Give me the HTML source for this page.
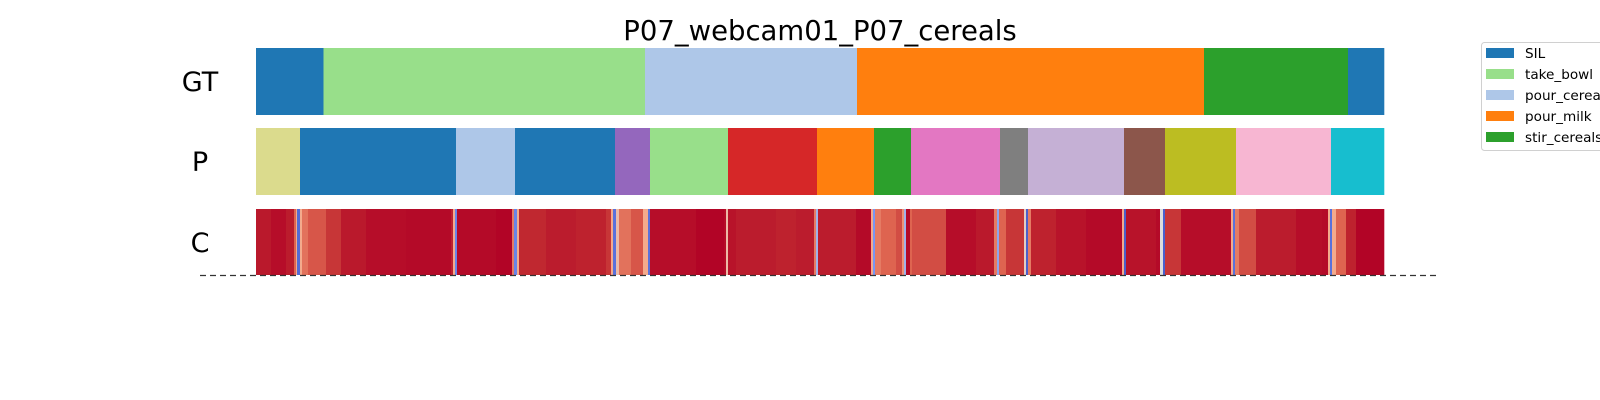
<!DOCTYPE html>
<html><head><meta charset="utf-8"><style>
html,body{margin:0;padding:0;background:#fff;width:1600px;height:400px;overflow:hidden}
svg text{font-family:"DejaVu Sans","Liberation Sans",sans-serif}
</style></head><body>
<svg id="chart" width="1600" height="400" viewBox="0 0 1600 400" xmlns="http://www.w3.org/2000/svg">
<text x="820" y="40" font-size="27.5" text-anchor="middle" fill="#000">P07_webcam01_P07_cereals</text>
<text x="200" y="91" font-size="27" text-anchor="middle">GT</text>
<text x="200" y="171" font-size="27" text-anchor="middle">P</text>
<text x="200" y="252" font-size="27" text-anchor="middle">C</text>
<g id="gt"></g>
<g id="pr"></g>
<g id="cf"></g>
<line x1="200" y1="275.5" x2="1440" y2="275.5" stroke="#333" stroke-width="1.3" stroke-dasharray="6,4"/>
<g>
<rect x="1481.5" y="42.5" width="140" height="108" rx="3" fill="#fff" stroke="#d0d0d0"/>
<g id="leg"></g>
</g>
</svg>
<script>
// total frames = bar width in px units
const TOTAL = 1128;
const gtStarts = [0, 67.5, 389, 601, 948, 1092];
const gtLabels = ['SIL','take_bowl','pour_cereals','pour_milk','stir_cereals','SIL'];
const prStarts = [0, 44, 200, 259, 359, 394, 472, 561, 618, 655, 744, 772, 868, 909, 980, 1075];
const prColors = ['#dbdb8d','#1f77b4','#aec7e8','#1f77b4','#9467bd','#98df8a','#d62728','#ff7f0e','#2ca02c','#e377c2','#7f7f7f','#c5b0d5','#8c564b','#bcbd22','#f7b6d2','#17becf'];
const confStarts = [0,15,30,38,40,41,44,46,52,70,85,110,150,195,197,199,201,240,256,258,261,263,290,320,350,355,357,360,363,375,387,392,394,440,468,470,472,480,520,540,558,560,562,600,615,617,619,625,640,646,648,650,654,656,690,720,738,741,743,750,768,770,772,775,800,830,866,868,870,900,904,907,909,925,975,977,979,983,1000,1040,1066,1072,1074,1076,1080,1090,1100];
const confValues = [.93,.97,.92,.75,.6,.08,.6,.72,.78,.85,.93,.97,.98,.9,.6,.15,.98,1.0,.7,.15,.6,.88,.92,.9,.85,.6,.1,.55,.72,.78,.6,.1,.97,1.0,.97,.55,.95,.92,.9,.92,.7,.3,.92,.98,.6,.2,.7,.75,.8,.65,.3,.98,.75,.8,.97,.93,.7,.25,.75,.85,.5,.05,.7,.9,.95,.98,.6,.05,.95,.98,.45,.05,.85,.97,.6,.1,.7,.8,.92,.97,.98,.6,.1,.6,.75,.9,1.0];
const legendLabels = ['SIL','take_bowl','pour_cereals','pour_milk','stir_cereals'];
const legendColors = ['#1f77b4','#98df8a','#aec7e8','#ff7f0e','#2ca02c'];

const X0 = 256, W = 1128;
const xs = f => X0 + f / TOTAL * W;
const NS = 'http://www.w3.org/2000/svg';
const gtColor = {SIL:'#1f77b4',take_bowl:'#98df8a',pour_cereals:'#aec7e8',pour_milk:'#ff7f0e',stir_cereals:'#2ca02c'};
function rect(parent, x, y, w, h, fill){
  const r = document.createElementNS(NS,'rect');
  r.setAttribute('x', x); r.setAttribute('y', y);
  r.setAttribute('width', Math.max(w,0)); r.setAttribute('height', h);
  r.setAttribute('fill', fill);
  parent.appendChild(r); return r;
}
const cw = [[0,[59,76,192]],[0.2,[120,150,245]],[0.45,[221,221,221]],[0.6,[244,170,140]],[0.75,[222,100,80]],[0.88,[192,40,48]],[1,[178,4,38]]];
function cmap(v){
  v = Math.max(0, Math.min(1, v));
  for (let i=0;i<cw.length-1;i++){
    const [a,ca]=cw[i],[b,cb]=cw[i+1];
    if (v<=b){const t=(v-a)/(b-a);return 'rgb('+ca.map((c,k)=>Math.round(c+(cb[k]-c)*t)).join(',')+')';}
  }
  return 'rgb(178,4,38)';
}
const gt = document.getElementById('gt');
gtStarts.forEach((s,i)=>{
  const e = i+1<gtStarts.length ? gtStarts[i+1] : TOTAL;
  const r = rect(gt, xs(s), 48, xs(e)-xs(s)+0.3, 67, gtColor[gtLabels[i]]);
  
  
});
const pr = document.getElementById('pr');
prStarts.forEach((s,i)=>{
  const e = i+1<prStarts.length ? prStarts[i+1] : TOTAL;
  const r = rect(pr, xs(s), 128, xs(e)-xs(s)+0.3, 67, prColors[i]);
  
  
});
const cf = document.getElementById('cf');
confStarts.forEach((s,i)=>{
  const e = i+1<confStarts.length ? confStarts[i+1] : TOTAL;
  const r = rect(cf, xs(s), 209, xs(e)-xs(s)+0.3, 66, cmap(confValues[i]));
  
  
});
const leg = document.getElementById('leg');
legendLabels.forEach((l,i)=>{
  const y = 53 + i*21;
  const p = rect(leg, 1486, y-5, 28, 10, legendColors[i]);
  
  
  const t = document.createElementNS(NS,'text');
  t.setAttribute('x', 1525); t.setAttribute('y', y+5);
  t.setAttribute('font-size', '13.6');
  t.textContent = l;
  
  
  leg.appendChild(t);
});
</script>
</body></html>
